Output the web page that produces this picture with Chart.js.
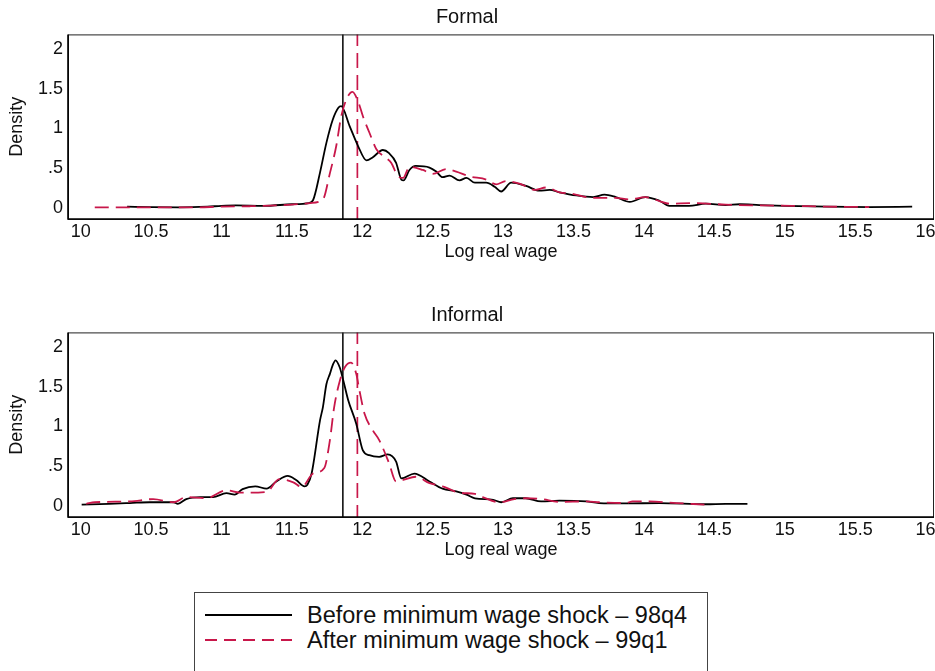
<!DOCTYPE html>
<html>
<head>
<meta charset="utf-8">
<script src="https://cdn.jsdelivr.net/npm/chart.js@4"></script>
<style>
  body { margin: 0; background: #fff; width: 935px; height: 671px; overflow: hidden; position: relative; font-family: 'Liberation Sans', Arial, sans-serif; }
  .panel { position: absolute; left: 0; width: 935px; height: 263px; }
  #legend { position: absolute; left: 194px; top: 592px; width: 514px; height: 100px; border: 1px solid #444; box-sizing: border-box; }
  .legText { position: absolute; left: 307px; font-size: 23.5px; line-height: 26px; color: #111; white-space: nowrap; }
  #legSample { position: absolute; left: 204px; top: 603px; }
</style>
</head>
<body>
<div class="panel" style="top:0"><canvas id="formalChart"></canvas></div>
<div class="panel" style="top:298px"><canvas id="informalChart"></canvas></div>
<div id="legend"></div>
<canvas id="legSample" width="92" height="50"></canvas>
<div class="legText" style="top:602px">Before minimum wage shock – 98q4</div>
<div class="legText" style="top:627px">After minimum wage shock – 99q1</div>
<script>
// Log real wage grid points and densities
const formalBeforeX = [10.33, 10.5, 10.7, 10.9, 11.0, 11.1, 11.3, 11.5, 11.62, 11.65, 11.70, 11.745, 11.79, 11.83, 11.85, 11.91, 11.97, 12.03, 12.075, 12.146, 12.19, 12.24, 12.277, 12.293, 12.335, 12.38, 12.477, 12.525, 12.57, 12.62, 12.69, 12.74, 12.80, 12.88, 12.94, 12.986, 13.057, 13.163, 13.257, 13.33, 13.40, 13.52, 13.64, 13.72, 13.80, 13.90, 14.01, 14.11, 14.18, 14.32, 14.44, 14.58, 14.68, 14.82, 15.0, 15.3, 15.6, 15.905];
const formalBeforeY = [0.02, 0.015, 0.012, 0.02, 0.03, 0.035, 0.03, 0.05, 0.065, 0.10, 0.45, 0.82, 1.11, 1.26, 1.28, 1.03, 0.78, 0.60, 0.64, 0.73, 0.69, 0.57, 0.36, 0.35, 0.48, 0.53, 0.51, 0.46, 0.39, 0.41, 0.35, 0.38, 0.32, 0.32, 0.27, 0.21, 0.32, 0.28, 0.22, 0.23, 0.20, 0.16, 0.14, 0.17, 0.14, 0.08, 0.14, 0.094, 0.03, 0.03, 0.057, 0.04, 0.05, 0.04, 0.03, 0.02, 0.015, 0.02];

const formalAfterX = [10.10, 10.4, 10.8, 11.0, 11.2, 11.5, 11.63, 11.72, 11.77, 11.815, 11.85, 11.886, 11.93, 11.97, 12.005, 12.05, 12.10, 12.16, 12.205, 12.25, 12.29, 12.335, 12.43, 12.50, 12.595, 12.667, 12.76, 12.88, 12.95, 13.02, 13.116, 13.23, 13.305, 13.40, 13.49, 13.635, 13.80, 13.895, 14.01, 14.11, 14.18, 14.345, 14.58, 14.82, 15.05, 15.3, 15.6];
const formalAfterY = [0.01, 0.01, 0.01, 0.02, 0.025, 0.045, 0.065, 0.11, 0.44, 0.78, 1.15, 1.36, 1.46, 1.34, 1.15, 0.95, 0.74, 0.64, 0.57, 0.41, 0.38, 0.52, 0.48, 0.43, 0.49, 0.46, 0.40, 0.36, 0.30, 0.34, 0.31, 0.23, 0.26, 0.20, 0.18, 0.13, 0.13, 0.11, 0.14, 0.09, 0.057, 0.065, 0.045, 0.035, 0.03, 0.02, 0.015];

const informalBeforeX = [10.007, 10.2, 10.35, 10.49, 10.66, 10.69, 10.75, 10.85, 10.94, 11.035, 11.094, 11.15, 11.24, 11.32, 11.39, 11.47, 11.53, 11.59, 11.61, 11.64, 11.70, 11.72, 11.745, 11.77, 11.79, 11.81, 11.84, 11.862, 11.90, 11.957, 12.004, 12.05, 12.12, 12.18, 12.24, 12.277, 12.37, 12.477, 12.57, 12.667, 12.74, 12.80, 12.93, 12.986, 13.07, 13.16, 13.27, 13.40, 13.59, 13.68, 13.87, 14.11, 14.44, 14.58, 14.735];
const informalBeforeY = [0.02, 0.03, 0.04, 0.05, 0.05, 0.03, 0.09, 0.115, 0.115, 0.165, 0.145, 0.215, 0.25, 0.22, 0.31, 0.38, 0.33, 0.25, 0.27, 0.41, 1.08, 1.24, 1.53, 1.66, 1.77, 1.83, 1.74, 1.60, 1.33, 1.035, 0.70, 0.64, 0.62, 0.65, 0.56, 0.35, 0.41, 0.31, 0.22, 0.185, 0.145, 0.10, 0.08, 0.05, 0.10, 0.10, 0.06, 0.07, 0.06, 0.04, 0.035, 0.04, 0.025, 0.03, 0.03];

const informalAfterX = [10.04, 10.10, 10.35, 10.515, 10.66, 10.75, 10.89, 11.035, 11.13, 11.32, 11.41, 11.51, 11.57, 11.65, 11.73, 11.77, 11.80, 11.84, 11.875, 11.92, 11.957, 11.98, 12.016, 12.075, 12.12, 12.19, 12.24, 12.29, 12.38, 12.477, 12.57, 12.69, 12.80, 12.855, 12.974, 13.08, 13.16, 13.27, 13.40, 13.59, 13.68, 13.87, 13.92, 14.04, 14.23, 14.43];
const informalAfterY = [0.03, 0.05, 0.06, 0.09, 0.05, 0.115, 0.10, 0.20, 0.17, 0.18, 0.34, 0.30, 0.24, 0.41, 0.48, 0.83, 1.24, 1.57, 1.74, 1.80, 1.66, 1.45, 1.16, 0.95, 0.83, 0.54, 0.31, 0.33, 0.37, 0.29, 0.25, 0.17, 0.155, 0.115, 0.05, 0.09, 0.10, 0.09, 0.055, 0.06, 0.05, 0.04, 0.06, 0.06, 0.04, 0.02];

// minimum wage before / after the shock (log)
const minWageBefore = 11.862;
const minWageAfter = 11.965;

const xTicks = [10, 10.5, 11, 11.5, 12, 12.5, 13, 13.5, 14, 14.5, 15, 15.5, 16];
const yTicks = [0, 0.5, 1, 1.5, 2];
const yTickLabels = ['0', '.5', '1', '1.5', '2'];

const RED = '#c8174a';
const FONT = "'Liberation Sans', Arial, sans-serif";
Chart.defaults.font.family = FONT;
Chart.defaults.color = '#111';

const boxPlugin = {
    id: 'plotBox',
    afterDraw(chart) {
        const { ctx, chartArea: a } = chart;
        ctx.save();
        ctx.strokeStyle = '#222';
        ctx.lineWidth = 1;
        ctx.strokeRect(a.left + 0.5, a.top + 0.5, a.right - a.left - 1, a.bottom - a.top);
        ctx.strokeStyle = '#000';
        ctx.lineWidth = 1.6;
        ctx.beginPath();
        ctx.moveTo(a.left, a.top);
        ctx.lineTo(a.left, a.bottom);
        ctx.lineTo(a.right, a.bottom);
        ctx.stroke();
        ctx.restore();
    }
};

function toPoints(xs, ys) {
    return xs.map((x, i) => ({ x: x, y: ys[i] }));
}

function makeChart(id, title, beforeX, beforeY, afterX, afterY) {
    const ctx = document.getElementById(id).getContext('2d');
    return new Chart(ctx, {
        type: 'line',
        data: {
            datasets: [
                {
                    label: 'Before minimum wage shock – 98q4',
                    data: toPoints(beforeX, beforeY),
                    borderColor: '#000',
                    borderWidth: 1.8,
                    pointRadius: 0,
                    cubicInterpolationMode: 'monotone',
                    order: 2
                },
                {
                    label: 'After minimum wage shock – 99q1',
                    data: toPoints(afterX, afterY),
                    borderColor: RED,
                    borderWidth: 1.8,
                    borderDash: [14, 7],
                    pointRadius: 0,
                    cubicInterpolationMode: 'monotone',
                    order: 1
                },
                {
                    label: 'min98',
                    data: [{ x: minWageBefore, y: -1 }, { x: minWageBefore, y: 3 }],
                    borderColor: '#000',
                    borderWidth: 1.5,
                    pointRadius: 0,
                    order: 3
                },
                {
                    label: 'min99',
                    data: [{ x: minWageAfter, y: -1 }, { x: minWageAfter, y: 3 }],
                    borderColor: RED,
                    borderWidth: 1.7,
                    borderDash: [15, 7],
                    pointRadius: 0,
                    order: 3
                }
            ]
        },
        options: {
            responsive: true,
            maintainAspectRatio: false,
            animation: false,
            devicePixelRatio: 1,
            layout: { padding: { left: 0, right: 1, top: 0, bottom: 0 } },
            plugins: {
                legend: { display: false },
                tooltip: { enabled: false },
                title: {
                    display: true,
                    text: title,
                    color: '#111',
                    font: { size: 20, weight: 'normal' },
                    padding: { top: 5, bottom: 5.4 }
                }
            },
            scales: {
                x: {
                    type: 'linear',
                    min: 9.91,
                    max: 16.06,
                    grid: { display: false, drawTicks: false },
                    border: { display: false },
                    afterBuildTicks: (s) => { s.ticks = xTicks.map(v => ({ value: v })); },
                    afterFit: (s) => { s.height = 44; s.paddingLeft = 0; s.paddingRight = 0; },
                    ticks: {
                        padding: 2,
                        maxRotation: 0,
                        autoSkip: false,
                        font: { size: 18 },
                        color: '#111',
                        callback: (v) => String(v)
                    },
                    title: {
                        display: true,
                        text: 'Log real wage',
                        font: { size: 18 },
                        color: '#111',
                        padding: { top: 0, bottom: 0 }
                    }
                },
                y: {
                    min: -0.135,
                    max: 2.18,
                    grid: { display: false, drawTicks: false },
                    border: { display: false },
                    afterBuildTicks: (s) => { s.ticks = yTicks.map(v => ({ value: v })); },
                    afterFit: (s) => { s.width = 68; s.paddingTop = 0; s.paddingBottom = 0; },
                    ticks: {
                        padding: 5,
                        font: { size: 18 },
                        color: '#111',
                        callback: (v) => yTickLabels[yTicks.indexOf(v)]
                    },
                    title: {
                        display: true,
                        text: 'Density',
                        font: { size: 18 },
                        color: '#111',
                        padding: { top: 6, bottom: 0 }
                    }
                }
            }
        },
        plugins: [boxPlugin]
    });
}

makeChart('formalChart', 'Formal', formalBeforeX, formalBeforeY, formalAfterX, formalAfterY);
makeChart('informalChart', 'Informal', informalBeforeX, informalBeforeY, informalAfterX, informalAfterY);

// legend line samples
const lg = document.getElementById('legSample').getContext('2d');
lg.lineWidth = 1.8;
lg.strokeStyle = '#000';
lg.beginPath();
lg.moveTo(1, 12);
lg.lineTo(88, 12);
lg.stroke();
lg.strokeStyle = RED;
lg.setLineDash([12, 7]);
lg.beginPath();
lg.moveTo(1, 37);
lg.lineTo(88, 37);
lg.stroke();
</script>
</body>
</html>
